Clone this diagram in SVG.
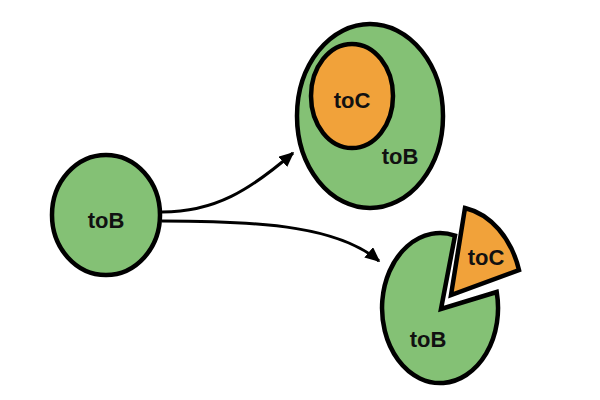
<svg xmlns="http://www.w3.org/2000/svg" width="600" height="400" viewBox="0 0 600 400">
<defs>
<style>
.g{fill:#84c175;stroke:#000;stroke-width:4.5}
.o{fill:#f1a23a;stroke:#000;stroke-width:4.5;stroke-linejoin:miter}
.t{font-family:"Liberation Sans",Arial,sans-serif;font-weight:bold;font-size:22px;fill:#111;text-anchor:middle}
.c{fill:none;stroke:#000;stroke-width:3}
</style>
<marker id="ah" viewBox="0 0 10 10" refX="9" refY="5" markerWidth="5" markerHeight="4.5" markerUnits="strokeWidth" orient="auto" preserveAspectRatio="none">
<path d="M0,0 L10,5 L0,10 Z" fill="#000"/>
</marker>
</defs>
<rect width="600" height="400" fill="#fff"/>
<g id="connectors">
<path class="c" d="M162,212 C215,212 250,190 293,153" marker-end="url(#ah)"/>
<path class="c" d="M162,221 C270,221 340,228 379,261" marker-end="url(#ah)"/>
</g>
<g id="nodeLeft">
<ellipse class="g" cx="106" cy="215" rx="54" ry="60"/>
<text class="t" x="106" y="228">toB</text>
</g>
<g id="nodeTop">
<ellipse class="g" cx="370" cy="116" rx="73" ry="92"/>
<ellipse class="o" cx="352" cy="96" rx="41" ry="52"/>
<text class="t" x="352" y="108">toC</text>
<text class="t" x="400" y="164">toB</text>
</g>
<g id="nodeBottom">
<path class="g" d="M441,309 L455,235.6 A58,75 0 1 0 496.7,292 Z"/>
<path class="o" d="M451,295 L465,208 A70,90 0 0 1 519,270 Z"/>
<text class="t" x="486" y="265">toC</text>
<text class="t" x="428" y="347">toB</text>
</g>
</svg>
